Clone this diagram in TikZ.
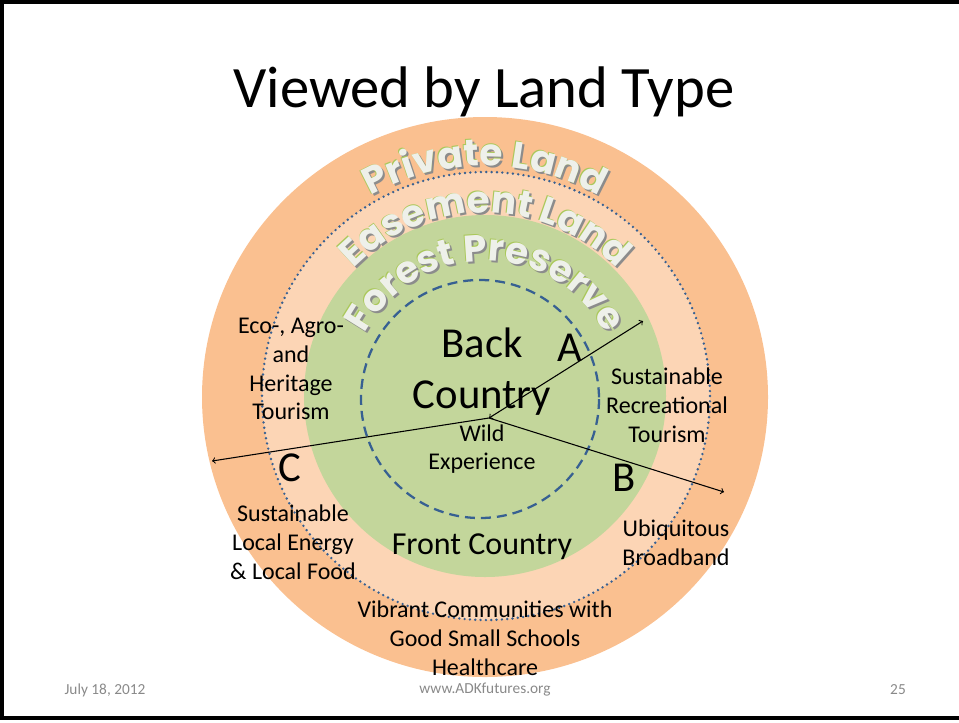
\documentclass[tikz,border=0pt]{standalone}
\usepackage{fontspec}
\setmainfont{Carlito}
\newfontfamily\arcfont{Poppins}
\usetikzlibrary{decorations.text,calc}

\definecolor{privfill}{RGB}{250,192,144}
\definecolor{easefill}{RGB}{252,213,181}
\definecolor{forestfill}{RGB}{195,214,155}
\definecolor{rimblue}{RGB}{55,96,146}
\definecolor{footgray}{RGB}{137,137,137}
\definecolor{arcshade}{RGB}{140,140,140}
\definecolor{arcedge}{RGB}{170,200,90}
\definecolor{arclight}{RGB}{238,240,234}

\newcommand\arcstyle{\arcfont\bfseries\fontsize{28}{32}\selectfont}
% one layer of the curved land names
\newcommand\arcword[4]{%
  \path[decorate,decoration={text along path,text align=center,
      text={|\arcstyle\color{#2}|#4}}]
    ([shift={#3}]ctr) ++(195:#1) arc[start angle=195,end angle=345,radius=#1];}
\newcommand\arcname[2]{%
  \arcword{#1}{arcshade}{(2,2)}{#2}
  \arcword{#1}{arcedge}{(-0.8,-0.8)}{#2}
  \arcword{#1}{arclight}{(0,0)}{#2}}

\tikzset{
  body/.style={align=center,inner sep=0pt,font=\fontsize{18}{21.6}\selectfont},
  big/.style={align=center,inner sep=0pt,font=\fontsize{32}{38.4}\selectfont},
  foot/.style={inner sep=0pt,text=footgray,font=\fontsize{11.5}{14}\selectfont},
  rim/.style={draw=rimblue},
  link/.style={draw=black,line width=0.8pt}
}

\begin{document}
\begin{tikzpicture}[x=0.75pt,y=-0.75pt]
  \useasboundingbox (0,0) rectangle (959,722);
  \draw[line width=2.3pt] (2,2) rectangle (966,718);

  \coordinate (ctr) at (485,397);
  % rings
  \fill[privfill] (ctr) ellipse [x radius=283,y radius=280];
  \fill[easefill] (486,396) circle [radius=224];
  \fill[forestfill] (485,396) circle [radius=181];
  \draw[rim,line width=2pt,line cap=round,dash pattern=on 0pt off 4pt] (486,396) circle [radius=224];
  \draw[rim,line width=1.7pt,dash pattern=on 7.5pt off 4.5pt] (480,399) circle [radius=119];

  % land names
  \arcname{231}{Private Land}
  \arcname{184}{Easement Land}
  \arcname{136}{Forest Preserve}

  \draw
    (484,92) node[inner sep=0pt,font=\fontsize{44}{52}\selectfont] (title) {Viewed by Land Type}
    (482,372) node[big] (back) {Back\\Country}
    (570,348) node[big] (labA) {A}
    (624,478) node[big] (labB) {B}
    (290,468) node[big] (labC) {C}
    (482,449) node[body] (wild) {Wild\\Experience}
    (482,547) node[body,font=\fontsize{24}{28}\selectfont] (front) {Front Country}
    (291,369) node[body] (eco) {Eco-, Agro-\\and\\Heritage\\Tourism}
    (667,405) node[body] (recr) {Sustainable\\Recreational\\Tourism}
    (293,542) node[body] (energy) {Sustainable\\Local Energy\\\& Local Food}
    (676,543) node[body] (broad) {Ubiquitous\\Broadband}
    (485,638) node[body] (vibrant) {Vibrant Communities with\\Good Small Schools\\Healthcare}
    (105,690) node[foot] (date) {July 18, 2012}
    (485,690) node[foot] (url) {www.ADKfutures.org}
    (898,690) node[foot] (page) {25};

  \coordinate (hub) at (489,418);
  \coordinate (endA) at (643,321);
  \coordinate (endB) at (724,492);
  \coordinate (endC) at (212,461);
  \begin{scope}[link]
    \draw[to-to] (hub) to (endA);
    \draw[-to] (hub) to (endB);
    \draw[-to] (hub) to (endC);
  \end{scope}
\end{tikzpicture}
\end{document}
